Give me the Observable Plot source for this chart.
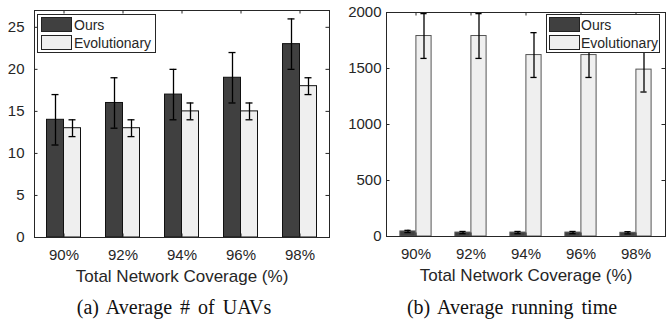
<!DOCTYPE html>
<html>
<head>
<meta charset="utf-8">
<script src="https://cdn.jsdelivr.net/npm/d3@7"></script>
<script src="https://cdn.jsdelivr.net/npm/@observablehq/plot@0.6"></script>
<style>
  body { margin: 0; background: #fff; }
  #wrap { position: relative; width: 671px; height: 323px; overflow: hidden; font-family: "Liberation Sans", Arial, sans-serif; color: #262626; }
  .panel { position: absolute; top: 0; }
  .legend { position: absolute; background: #fff; border: 1px solid #262626; box-sizing: border-box; }
  .row { position: absolute; left: 0; height: 16px; font-size: 14px; line-height: 16px; white-space: nowrap; }
  .sw { position: absolute; top: 0; width: 31px; height: 15px; box-sizing: border-box; border: 1px solid #222; }
  .cap { position: absolute; font-family: "Liberation Serif", "Times New Roman", serif; font-size: 20px; word-spacing: 3px; white-space: pre; transform: translate(-50%, -50%); color: #111; }
</style>
</head>
<body>
<div id="wrap">
  <div id="a" class="panel" style="left:0"></div>
  <div id="b" class="panel" style="left:336px"></div>
</div>
<script>
// ---- data ----
const categories = ["90%", "92%", "94%", "96%", "98%"];
const seriesNames = ["Ours", "Evolutionary"];
// (a) Average # of UAVs
const uavOurs = [14, 16, 17, 19, 23];
const uavOursErr = [3, 3, 3, 3, 3];
const uavEvo = [13, 13, 15, 15, 18];
const uavEvoErr = [1, 1, 1, 1, 1];
const uavTicks = [0, 5, 10, 15, 20, 25];
// (b) Average running time
const timeOurs = [45, 35, 35, 35, 33];
const timeOursErr = [10, 10, 10, 10, 10];
const timeEvo = [1790, 1790, 1620, 1620, 1490];
const timeEvoErr = [200, 200, 200, 200, 200];
const timeTicks = [0, 500, 1000, 1500, 2000];
const xLabel = "Total Network Coverage (%)";
const captions = ["(a) Average # of UAVs", "(b) Average running time"];

const colors = {Ours: "#404040", Evolutionary: "#efefef"};
const axisColor = "#262626";

function rows(ours, oursErr, evo, evoErr) {
  const out = [];
  categories.forEach((c, i) => {
    out.push({cat: c, series: "Ours", v: ours[i], lo: ours[i] - oursErr[i], hi: ours[i] + oursErr[i]});
    out.push({cat: c, series: "Evolutionary", v: evo[i], lo: evo[i] - evoErr[i], hi: evo[i] + evoErr[i]});
  });
  return out;
}

function panel({data, yDomain, ticks, width, height, margins, barW, tickPad, edge}) {
  const plotW = width - margins.left - margins.right;
  const plotH = height - margins.top - margins.bottom;
  const B = plotW / categories.length;
  const ours = data.filter(d => d.series === "Ours");
  const evo = data.filter(d => d.series === "Evolutionary");
  const capHalf = 3.5;
  const tl = 3.5;
  const marks = [];
  // bars
  marks.push(Plot.barY(ours, {x: "cat", y: "v", fill: colors.Ours, stroke: edge, strokeWidth: 1, insetLeft: B / 2 - barW, insetRight: B / 2}));
  marks.push(Plot.barY(evo, {x: "cat", y: "v", fill: colors.Evolutionary, stroke: edge, strokeWidth: 1, insetLeft: B / 2, insetRight: B / 2 - barW}));
  // error bars
  for (const [set, off] of [[ours, -barW / 2], [evo, barW / 2]]) {
    marks.push(Plot.ruleX(set, {x: "cat", y1: "lo", y2: d => Math.min(d.hi, yDomain[1]), dx: off, stroke: "#000", strokeWidth: 1.3}));
    marks.push(Plot.tickY(set, {x: "cat", y: d => Math.min(d.hi, yDomain[1]), dx: off, insetLeft: B / 2 - capHalf, insetRight: B / 2 - capHalf, stroke: "#000", strokeWidth: 1.3}));
    marks.push(Plot.tickY(set, {x: "cat", y: "lo", dx: off, insetLeft: B / 2 - capHalf, insetRight: B / 2 - capHalf, stroke: "#000", strokeWidth: 1.3}));
  }
  // frame
  marks.push(Plot.frame({stroke: axisColor, strokeWidth: 1}));
  // inward ticks (MATLAB style) on all four sides
  marks.push(Plot.tickY(ticks, {y: d => d, insetRight: plotW - tl, stroke: axisColor}));
  marks.push(Plot.tickY(ticks, {y: d => d, insetLeft: plotW - tl, stroke: axisColor}));
  marks.push(Plot.tickX(categories, {x: d => d, insetTop: plotH - tl, stroke: axisColor}));
  marks.push(Plot.tickX(categories, {x: d => d, insetBottom: plotH - tl, stroke: axisColor}));
  // tick labels
  marks.push(Plot.axisY({anchor: "left", ticks, tickFormat: d => String(d), tickSize: 0, tickPadding: tickPad, fontSize: 15, color: axisColor, label: null}));
  marks.push(Plot.axisX({anchor: "bottom", tickSize: 0, tickPadding: 12, fontSize: 15, color: axisColor, label: null}));
  marks.push(Plot.text([xLabel], {frameAnchor: "bottom", dy: 44, fontSize: 17, fill: axisColor, text: d => d}));
  return Plot.plot({
    width, height,
    marginTop: margins.top, marginBottom: margins.bottom, marginLeft: margins.left, marginRight: margins.right,
    style: {fontFamily: "'Liberation Sans', Arial, sans-serif", background: "transparent", overflow: "visible"},
    x: {type: "band", domain: categories, paddingInner: 0, paddingOuter: 0},
    y: {domain: yDomain},
    marks
  });
}

document.getElementById("a").append(panel({
  data: rows(uavOurs, uavOursErr, uavEvo, uavEvoErr),
  yDomain: [0, 27], ticks: uavTicks, width: 336, height: 290,
  margins: {top: 10, bottom: 53, left: 34, right: 7}, barW: 17, tickPad: 10, edge: "#111"
}));
document.getElementById("b").append(panel({
  data: rows(timeOurs, timeOursErr, timeEvo, timeEvoErr),
  yDomain: [0, 2000], ticks: timeTicks, width: 335, height: 290,
  margins: {top: 12, bottom: 54, left: 50, right: 6}, barW: 16, tickPad: 5, edge: "#555"
}));

// legends
const wrap = document.getElementById("wrap");
function legend(left, top, w, h, swLeft, txtLeft) {
  const box = document.createElement("div");
  box.className = "legend";
  Object.assign(box.style, {left: left + "px", top: top + "px", width: w + "px", height: h + "px"});
  seriesNames.forEach((name, i) => {
    const r = document.createElement("div");
    r.className = "row";
    r.style.top = (2 + i * 18) + "px";
    const sw = document.createElement("div");
    sw.className = "sw";
    sw.style.left = swLeft + "px";
    sw.style.background = colors[name];
    const t = document.createElement("span");
    t.textContent = name;
    t.style.position = "absolute";
    t.style.left = txtLeft + "px";
    t.style.top = "0px";
    r.append(sw, t);
    box.append(r);
  });
  wrap.append(box);
}
legend(37, 14, 119, 39, 3, 36);
legend(546, 14, 114, 39, 2, 34);

// captions
[[174, 307], [512, 307]].forEach(([cx, cy], i) => {
  const c = document.createElement("div");
  c.className = "cap";
  c.style.left = cx + "px";
  c.style.top = cy + "px";
  c.textContent = captions[i];
  wrap.append(c);
});
</script>
</body>
</html>
